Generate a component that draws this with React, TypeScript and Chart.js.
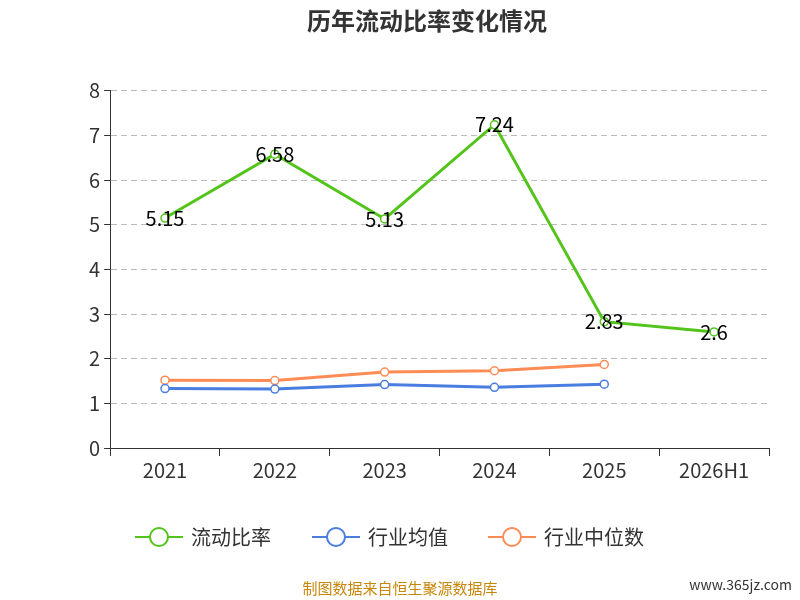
import React, { useEffect, useRef } from "react";
import { Chart, registerables } from "chart.js";
Chart.register(...registerables);

const categories = ["2021", "2022", "2023", "2024", "2025", "2026H1"];
const currentRatio = [5.15, 6.58, 5.13, 7.24, 2.83, 2.6];
const industryAvg = [1.33, 1.32, 1.42, 1.36, 1.43, null];
const industryMedian = [1.52, 1.51, 1.70, 1.73, 1.87, null];
const yTicks = [0, 1, 2, 3, 4, 5, 6, 7, 8];

const FONT = "'Noto Sans CJK SC', 'Noto Sans', sans-serif";

const extras = {
  id: "extras",
  afterDatasetsDraw(chart: any) {
    const ctx = chart.ctx;
    const meta = chart.getDatasetMeta(0);
    ctx.save();
    ctx.font = `20px ${FONT}`;
    ctx.fillStyle = "#000";
    ctx.textAlign = "center";
    ctx.textBaseline = "middle";
    meta.data.forEach((p: any, i: number) => {
      ctx.fillText(String(currentRatio[i]), p.x, p.y);
    });
    const items = [
      ["流动比率", "#52c41a"],
      ["行业均值", "#4a7de0"],
      ["行业中位数", "#ff8c55"],
    ];
    const xs = [135, 312, 488];
    const y = 537;
    ctx.font = `20px ${FONT}`;
    ctx.textAlign = "left";
    items.forEach(([t, c], i) => {
      const x = xs[i];
      ctx.strokeStyle = c;
      ctx.lineWidth = 2;
      ctx.beginPath();
      ctx.moveTo(x, y);
      ctx.lineTo(x + 48, y);
      ctx.stroke();
      ctx.beginPath();
      ctx.arc(x + 24, y, 9, 0, Math.PI * 2);
      ctx.fillStyle = "#fff";
      ctx.fill();
      ctx.stroke();
      ctx.fillStyle = "#333";
      ctx.fillText(t, x + 56, y);
    });
    ctx.font = `15px ${FONT}`;
    ctx.fillStyle = "#c8860a";
    ctx.textAlign = "center";
    ctx.fillText("制图数据来自恒生聚源数据库", 400, 588);
    ctx.fillStyle = "#333";
    ctx.textAlign = "right";
    ctx.font = `14px ${FONT}`;
    ctx.fillText("www.365jz.com", 792, 585);
    ctx.restore();
  },
};

export default function App() {
  const ref = useRef<HTMLCanvasElement>(null);
  useEffect(() => {
    const mk = (label: string, data: any[], color: string) => ({
      label,
      data,
      borderColor: color,
      backgroundColor: "#fff",
      borderWidth: 3,
      pointRadius: 4,
      pointBorderWidth: 1.5,
      pointBorderColor: color,
      pointBackgroundColor: "#fff",
      tension: 0,
    });
    const chart = new Chart(ref.current!, {
      type: "line",
      data: {
        labels: categories,
        datasets: [
          mk("流动比率", currentRatio, "#52c41a"),
          mk("行业均值", industryAvg, "#4a7de0"),
          mk("行业中位数", industryMedian, "#ff8c55"),
        ],
      },
      options: {
        animation: false,
        responsive: false,
        layout: { padding: { left: 85, right: 31, top: 0, bottom: 116 } },
        plugins: {
          legend: { display: false },
          tooltip: { enabled: false },
          title: {
            display: true,
            text: "历年流动比率变化情况",
            color: "#333",
            font: { size: 24, weight: "bold", family: FONT },
            padding: { top: 6, bottom: 56 },
          },
        },
        scales: {
          x: {
            offset: true,
            grid: { display: true, drawOnChartArea: false, drawTicks: true, tickLength: 8, color: "#333", offset: true } as any,
            border: { color: "#333" },
            ticks: { color: "#333", font: { size: 20, family: FONT }, padding: 2 },
          },
          y: {
            min: 0,
            max: 8,
            afterBuildTicks: (s: any) => { s.ticks = yTicks.map((v) => ({ value: v })); },
            grid: { color: "#bbb", tickLength: 6, tickColor: "#333" } as any,
            border: { color: "#333", dash: [6, 4] } as any,
            ticks: { color: "#333", font: { size: 20, family: FONT }, padding: 4 },
          },
        },
      },
      plugins: [extras],
    });
    return () => chart.destroy();
  }, []);
  return (
    <div style={{ position: "fixed", left: 0, top: 0, width: 800, height: 600, background: "#fff" }}>
      <canvas ref={ref} width={800} height={600} />
    </div>
  );
}
